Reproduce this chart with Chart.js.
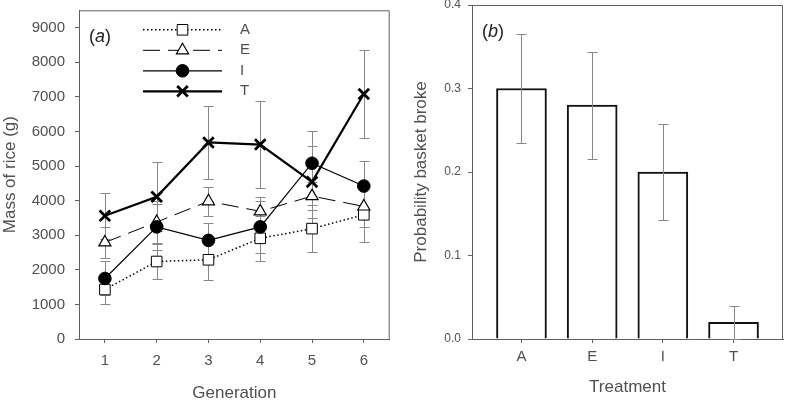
<!DOCTYPE html>
<html lang="en">
<head>
<meta charset="UTF-8" />
<title>Mass of rice and basket breakage</title>
<script src="https://cdn.jsdelivr.net/npm/chart.js@4"></script>
<style>
  body { margin: 0; background: #fff; }
  #wrap { position: relative; width: 787px; height: 401px; }
  .panel { position: absolute; top: 0; }
</style>
</head>
<body>
<div id="wrap">
  <canvas id="massChart" class="panel" style="left:0" width="400" height="401"></canvas>
  <canvas id="breakChart" class="panel" style="left:400px" width="387" height="401"></canvas>
</div>
<script>
// panel (a): mass of rice by generation
const generations = [1, 2, 3, 4, 5, 6];
const massTicks = [0, 1000, 2000, 3000, 4000, 5000, 6000, 7000, 8000, 9000];
const massA = [1430, 2240, 2290, 2910, 3190, 3590];
const errA  = [420, 520, 580, 650, 670, 780];
const massE = [2790, 3380, 3980, 3690, 4130, 3830];
const errE  = [450, 600, 420, 420, 400, 600];
const massI = [1750, 3240, 2850, 3240, 5080, 4420];
const errI  = [490, 670, 500, 750, 940, 720];
const massT = [3560, 4110, 5680, 5620, 4540, 7080];
const errT  = [670, 1000, 1060, 1250, 1050, 1260];

// panel (b): probability basket broke
const treatments = ['A', 'E', 'I', 'T'];
const probTicks = [0, 0.1, 0.2, 0.3, 0.4];
const breakProb = [0.30, 0.28, 0.20, 0.02];
const breakErr  = [0.065, 0.064, 0.057, 0.02];

Chart.defaults.font.family = '"Liberation Sans", Arial, sans-serif';
Chart.defaults.color = '#505050';
const axisColor = '#606060';

function errorBarPlugin(hook) {
  return {
    id: 'errorBars',
    [hook](chart) {
      const {ctx, scales: {x, y}} = chart;
      ctx.save();
      ctx.strokeStyle = '#888';
      ctx.lineWidth = 1;
      chart.data.datasets.forEach(ds => {
        ds.data.forEach((p, i) => {
          const e = ds.errors[i];
          const px = Math.round(x.getPixelForValue(p.x)) + 0.5;
          const top = Math.round(y.getPixelForValue(p.y + e)) + 0.5;
          const bot = Math.round(y.getPixelForValue(Math.max(0, p.y - e))) + 0.5;
          ctx.beginPath();
          ctx.moveTo(px, top); ctx.lineTo(px, bot);
          ctx.moveTo(px - 5, top); ctx.lineTo(px + 5, top);
          ctx.moveTo(px - 5, bot); ctx.lineTo(px + 5, bot);
          ctx.stroke();
        });
      });
      ctx.restore();
    }
  };
}

// top/right frame lines and the panel letter
const frame = {
  id: 'frame',
  afterDraw(chart, args, opts) {
    const {ctx, chartArea: {left, right, top, bottom}} = chart;
    ctx.save();
    ctx.strokeStyle = axisColor;
    ctx.lineWidth = 1;
    ctx.beginPath();
    ctx.moveTo(left, top + 0.5);
    ctx.lineTo(right - 0.5, top + 0.5);
    ctx.lineTo(right - 0.5, bottom);
    ctx.stroke();
    ctx.fillStyle = '#222';
    ctx.textBaseline = 'middle';
    let tx = left + 10;
    const ty = top + 27;
    const normal = '18px "Liberation Sans", Arial, sans-serif';
    const italic = 'italic 18px "Liberation Sans", Arial, sans-serif';
    [['(', normal], [opts.tag, italic], [')', normal]].forEach(([s, f]) => {
      ctx.font = f;
      ctx.fillText(s, tx, ty);
      tx += ctx.measureText(s).width;
    });
    ctx.restore();
  }
};

const seriesLegend = {
  id: 'seriesLegend',
  afterDatasetsDraw(chart) {
    const {ctx, chartArea} = chart;
    const x0 = chartArea.left + 64, x1 = chartArea.left + 143;
    const xm = chartArea.left + 103.5, xt = chartArea.left + 161;
    chart.data.datasets.forEach((ds, i) => {
      const yy = chartArea.top + 19.5 + i * 20.5;
      ctx.save();
      ctx.strokeStyle = ds.borderColor;
      ctx.lineWidth = ds.borderWidth;
      ctx.setLineDash(ds.borderDash || []);
      ctx.beginPath();
      ctx.moveTo(x0, yy); ctx.lineTo(x1, yy);
      ctx.stroke();
      ctx.setLineDash([]);
      ctx.fillStyle = ds.pointBackgroundColor;
      ctx.strokeStyle = ds.pointBorderColor;
      ctx.lineWidth = ds.pointBorderWidth;
      Chart.helpers.drawPoint(ctx, {
        pointStyle: ds.pointStyle, radius: ds.pointRadius,
        borderWidth: ds.pointBorderWidth, rotation: 0
      }, xm, yy);
      ctx.fillStyle = '#505050';
      ctx.font = '15px "Liberation Sans", Arial, sans-serif';
      ctx.textBaseline = 'middle';
      ctx.fillText(ds.label, xt, yy);
      ctx.restore();
    });
  }
};

function series(label, values, errors, order, style) {
  return Object.assign({
    label: label,
    data: values.map((v, i) => ({x: generations[i], y: v})),
    errors: errors,
    order: order,
    borderColor: '#000',
    pointBorderColor: '#000',
    fill: false,
    tension: 0
  }, style);
}

new Chart(document.getElementById('massChart'), {
  type: 'line',
  data: {
    datasets: [
      series('A', massA, errA, 3, {borderWidth: 1.5, borderDash: [1.5, 2.5], pointStyle: 'rect',
        pointRadius: 7.5, pointBackgroundColor: '#fff', pointBorderWidth: 1}),
      series('E', massE, errE, 2, {borderWidth: 1, borderDash: [17, 8], pointStyle: 'triangle',
        pointRadius: 7, pointBackgroundColor: '#fff', pointBorderWidth: 1.2}),
      series('I', massI, errI, 1, {borderWidth: 1.2, pointStyle: 'circle',
        pointRadius: 6.3, pointBackgroundColor: '#000', pointBorderWidth: 1}),
      series('T', massT, errT, 0, {borderWidth: 2.2, pointStyle: 'crossRot',
        pointRadius: 7.5, pointBackgroundColor: '#000', pointBorderWidth: 2.8})
    ]
  },
  options: {
    responsive: false,
    animation: false,
    layout: {padding: {top: 5, right: 8, left: 0, bottom: 0}},
    plugins: {legend: {display: false}, tooltip: {enabled: false}, frame: {tag: 'a'}},
    scales: {
      x: {
        type: 'linear', min: 0.5, max: 6.5,
        afterBuildTicks: s => { s.ticks = generations.map(g => ({value: g})); },
        ticks: {font: {size: 15}, padding: 9, callback: v => String(v)},
        grid: {display: true, drawOnChartArea: false, drawTicks: true, tickLength: 4, color: axisColor},
        border: {color: axisColor},
        title: {display: true, text: 'Generation', font: {size: 17, lineHeight: 0.95}, padding: 0},
        afterFit: s => { s.height = 62; s.paddingLeft = 0; s.paddingRight = 0; }
      },
      y: {
        min: 0, max: 9500,
        afterBuildTicks: s => { s.ticks = massTicks.map(v => ({value: v})); },
        ticks: {font: {size: 15}, padding: 10, callback: v => String(v)},
        grid: {display: true, drawOnChartArea: false, drawTicks: true, tickLength: 4, color: axisColor},
        border: {color: axisColor},
        title: {display: true, text: 'Mass of rice (g)', font: {size: 17}, padding: 0},
        afterFit: s => { s.width = 79; s.paddingTop = 0; s.paddingBottom = 0; }
      }
    }
  },
  plugins: [errorBarPlugin('beforeDatasetsDraw'), seriesLegend, frame]
});

new Chart(document.getElementById('breakChart'), {
  type: 'bar',
  data: {
    datasets: [{
      label: 'Probability basket broke',
      data: treatments.map((t, i) => ({x: i + 1, y: breakProb[i]})),
      errors: breakErr,
      backgroundColor: '#fff',
      borderColor: '#111',
      borderWidth: 2,
      barThickness: 50
    }]
  },
  options: {
    responsive: false,
    animation: false,
    layout: {padding: {top: 5, right: 4, left: 0, bottom: 0}},
    plugins: {legend: {display: false}, tooltip: {enabled: false}, frame: {tag: 'b'}},
    scales: {
      x: {
        type: 'linear', min: 0.3, max: 4.7, offset: false,
        afterBuildTicks: s => { s.ticks = treatments.map((t, i) => ({value: i + 1})); },
        ticks: {font: {size: 15}, padding: 5, callback: v => treatments[Math.round(v) - 1]},
        grid: {display: true, offset: false, drawOnChartArea: false, drawTicks: true, tickLength: 4, color: axisColor},
        border: {color: axisColor},
        title: {display: true, text: 'Treatment', font: {size: 17}, padding: {top: 0, bottom: 3}},
        afterFit: s => { s.height = 62; s.paddingLeft = 0; s.paddingRight = 0; }
      },
      y: {
        min: 0, max: 0.4,
        afterBuildTicks: s => { s.ticks = probTicks.map(v => ({value: v})); },
        ticks: {font: {size: 12}, padding: 7, callback: v => v.toFixed(1)},
        grid: {display: true, drawOnChartArea: false, drawTicks: true, tickLength: 4, color: axisColor},
        border: {color: axisColor},
        title: {display: true, text: 'Probability basket broke', font: {size: 17}, padding: {top: 11.5, bottom: 0}},
        afterFit: s => { s.width = 72; s.paddingTop = 0; s.paddingBottom = 0; }
      }
    }
  },
  plugins: [errorBarPlugin('afterDatasetsDraw'), frame]
});
</script>
</body>
</html>
